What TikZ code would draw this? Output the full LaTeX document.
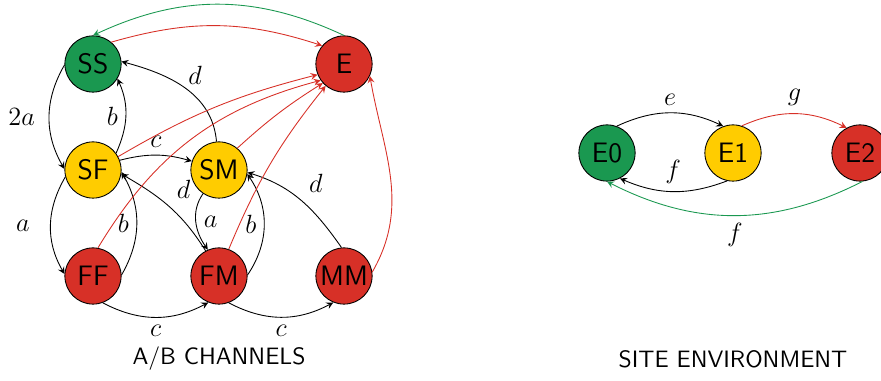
\documentclass[tikz,border=0pt]{standalone}
\usepackage{amsmath}
\usetikzlibrary{arrows}

\definecolor{stgreen}{RGB}{26,152,80}
\definecolor{stred}{RGB}{215,48,39}
\definecolor{styellow}{RGB}{255,204,0}

\begin{document}
\begin{tikzpicture}[x=0.016cm, y=0.016cm, >=stealth,
  state/.style={circle, draw, inner sep=0pt, minimum size=0.9cm,
    font=\fontsize{12.8}{14}\selectfont\sffamily, fill=#1},
  lbl/.style={font=\fontsize{12}{14}\selectfont},
  captxt/.style={font=\fontsize{10.8}{13}\selectfont\sffamily},
  tr/.style={->},
  red tr/.style={->, draw=stred},
  green tr/.style={->, draw=stgreen}]

\useasboundingbox (0,0) rectangle (881,-381);

% channel states
\node [state=stgreen] (SS) at (93,-64) {SS};
\node [state=stred] (E) at (344,-64) {E};
\node [state=styellow] (SF) at (93,-170) {SF};
\node [state=styellow] (SM) at (219,-170) {SM};
\node [state=stred] (FF) at (93,-276) {FF};
\node [state=stred] (FM) at (219,-276) {FM};
\node [state=stred] (MM) at (344,-276) {MM};

% site states
\node [state=stgreen] (E0) at (607,-153) {E0};
\node [state=styellow] (E1) at (733,-153) {E1};
\node [state=stred] (E2) at (860,-153) {E2};

% captions
\node [captxt] (abcap) at (219,-359) {A/B CHANNELS};
\node [captxt] (sitecap) at (733,-359) {SITE ENVIRONMENT};

% transitions between channel states
\draw [tr] (SS.182) to [out=-120, in=120] node [lbl, left=3pt] {$2a$} (SF.178);
\draw [tr] (SF.36) to [out=66, in=-66] node [lbl, left] {$b$} (SS.-31);
\draw [tr] (SF.194) to [out=-120, in=120] node [lbl, left=6pt] {$a$} (FF.176);
\draw [tr] (FF.2) to [out=60, in=-60] node [lbl, left] {$b$} (SF.-4);
\draw [tr] (SF.20) to [bend left=15] node [lbl, above] {$c$} (SM.162);
\draw [tr] (SM.95) to [out=95, in=-15] node [lbl, above right=-2pt] {$d$} (SS.5);
\draw [tr] (FM.118) to [out=122, in=-30] node [lbl, above right] {$d$} (SF.-8);
\draw [tr] (SM.236) to [out=-125, in=125] node [lbl, right] {$a$} (FM.113);
\draw [tr] (FM.2) to [out=56, in=-56] node [lbl, left] {$b$} (SM.-8);
\draw [tr] (MM.95) to [out=125, in=-17] node [lbl, above right] {$d$} (SM.-5);
\draw [tr] (FF.-70) to [bend right=28] node [lbl, below] {$c$} (FM.-112);
\draw [tr] (FM.-70) to [bend right=28] node [lbl, below] {$c$} (MM.-112);

% to and from the empty state
\draw [green tr] (E.north) to [bend right=25] (SS.north);
\draw [red tr] (SS.50) to [bend left=17] (E.140);
\draw [red tr] (SF.28) to [bend left=8] (E.202);
\draw [red tr] (FF.80) to [bend left=22] (E.215);
\draw [red tr] (SM.50) to [bend left=5] (E.222);
\draw [red tr] (FM.70) to [bend left=8] (E.230);
\draw [red tr] (MM.8) to [out=60, in=-80] (E.-25);

% site environment
\draw [tr] (E0.70) to [bend left=25] node [lbl, above] {$e$} (E1.110);
\draw [tr] (E1.-102) to [bend left=22] node [lbl, above] {$f$} (E0.-63);
\draw [red tr] (E1.72) to [bend left=25] node [lbl, above] {$g$} (E2.118);
\draw [green tr] (E2.-85) to [bend left=27] node [lbl, below] {$f$} (E0.-90);

\end{tikzpicture}
\end{document}
